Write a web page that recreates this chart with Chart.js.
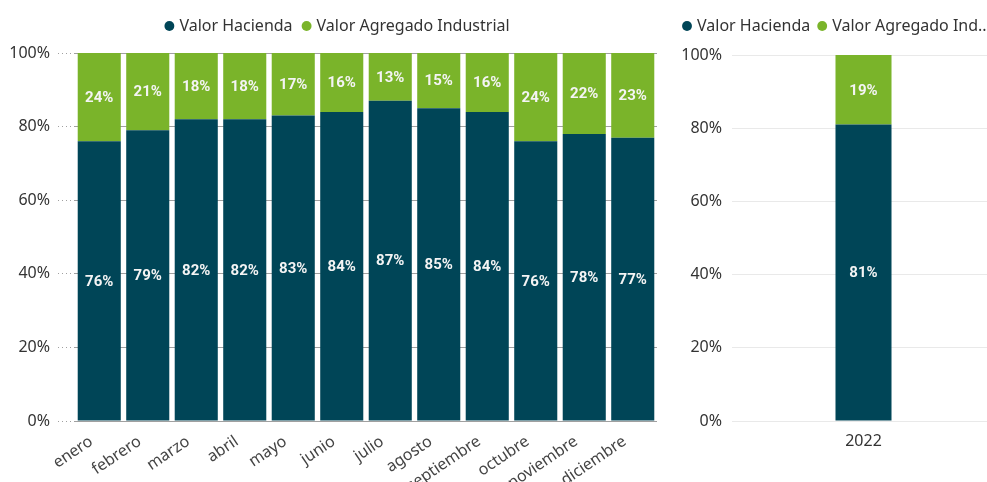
<!DOCTYPE html>
<html lang="es">
<head>
    <meta charset="UTF-8">
    <title>Valor Hacienda vs Valor Agregado Industrial</title>
    <script src="https://cdn.jsdelivr.net/npm/chart.js"></script>
    <style>
        body {
            margin: 0;
            background: #ffffff;
            width: 987px;
            height: 482px;
            overflow: hidden;
            position: relative;
        }
        #mes-chart {
            position: absolute;
            left: 0;
            top: 0;
        }
        #anio-chart {
            position: absolute;
            left: 660px;
            top: 0;
        }
    </style>
</head>
<body>
<canvas id="mes-chart" width="672" height="482"></canvas>
<canvas id="anio-chart" width="335" height="482"></canvas>

<script>
    const meses = ['enero', 'febrero', 'marzo', 'abril', 'mayo', 'junio', 'julio',
        'agosto', 'septiembre', 'octubre', 'noviembre', 'diciembre'];
    const haciendaMes = [76, 79, 82, 82, 83, 84, 87, 85, 84, 76, 78, 77];
    const agregadoMes = [24, 21, 18, 18, 17, 16, 13, 15, 16, 24, 22, 23];

    const anios = ['2022'];
    const haciendaAnio = [81];
    const agregadoAnio = [19];

    const yTicks = [0, 20, 40, 60, 80, 100];

    const azul = '#004557';
    const verde = '#7AB42A';
    const font = "'Noto Sans', sans-serif";

    // etiquetas blancas dentro de cada segmento
    const etiquetas = {
        id: 'etiquetas',
        afterDatasetsDraw(chart) {
            const ctx = chart.ctx;
            ctx.save();
            ctx.font = "bold 15px 'Roboto', sans-serif";
            ctx.fillStyle = '#f4f4f4';
            ctx.textAlign = 'center';
            ctx.textBaseline = 'middle';
            chart.data.datasets.forEach((ds, i) => {
                chart.getDatasetMeta(i).data.forEach((bar, j) => {
                    ctx.fillText(ds.data[j] + '%', bar.x, (bar.y + bar.base) / 2 + 1);
                });
            });
            ctx.restore();
        }
    };

    // aire debajo de la leyenda y desplazamiento horizontal
    function ajusteLeyenda(extra, dx) {
        return {
            id: 'ajusteLeyenda',
            afterInit(chart) {
                const legend = chart.legend;
                const fit = legend.fit;
                const draw = legend.draw;
                legend.fit = function () {
                    fit.call(this);
                    this.height += extra;
                };
                legend.draw = function () {
                    const ctx = this.ctx;
                    ctx.save();
                    ctx.translate(dx, 0);
                    draw.call(this);
                    ctx.restore();
                };
            }
        };
    }

    function yScale(grid, ancho, pad) {
        return {
            stacked: true,
            min: 0,
            max: 100,
            afterBuildTicks: s => { s.ticks = yTicks.map(v => ({ value: v })); },
            afterFit: s => { s.width = ancho; },
            border: { display: false },
            grid: grid,
            ticks: {
                color: '#333333',
                padding: pad,
                font: { family: font, size: 16 },
                callback: v => v + '%'
            }
        };
    }

    function leyenda(pad, extra) {
        return Object.assign({
            position: 'top',
            labels: {
                usePointStyle: true,
                pointStyle: 'circle',
                boxWidth: 4,
                boxHeight: 7,
                padding: pad,
                color: '#333333',
                font: { family: font, size: 16 }
            }
        }, extra);
    }

    new Chart(document.getElementById('mes-chart'), {
        type: 'bar',
        data: {
            labels: meses,
            datasets: [
                { label: 'Valor Hacienda', data: haciendaMes, backgroundColor: azul,
                  barPercentage: 0.888, categoryPercentage: 1 },
                { label: 'Valor Agregado Industrial', data: agregadoMes, backgroundColor: verde,
                  barPercentage: 0.888, categoryPercentage: 1 }
            ]
        },
        options: {
            responsive: false,
            animation: false,
            layout: { padding: { top: 6, right: 15, left: 0, bottom: 0 } },
            plugins: {
                legend: leyenda(12, {}),
                tooltip: { enabled: false }
            },
            scales: {
                x: {
                    stacked: true,
                    afterFit: s => { s.height = 61; },
                    border: { display: false },
                    grid: { display: false },
                    ticks: {
                        color: '#444444',
                        font: { family: font, size: 16 },
                        minRotation: 34,
                        maxRotation: 34,
                        labelOffset: -8,
                        autoSkip: false
                    }
                },
                y: yScale({
                    color: '#a0a0a0',
                    borderDash: [1, 3],
                    tickBorderDash: [1, 3],
                    tickLength: 17
                }, 75, 8)
            }
        },
        plugins: [etiquetas, ajusteLeyenda(9, 10)]
    });

    new Chart(document.getElementById('anio-chart'), {
        type: 'bar',
        data: {
            labels: anios,
            datasets: [
                { label: 'Valor Hacienda', data: haciendaAnio, backgroundColor: azul,
                  barPercentage: 0.213, categoryPercentage: 1 },
                { label: 'Valor Agregado Industrial', data: agregadoAnio, backgroundColor: verde,
                  barPercentage: 0.213, categoryPercentage: 1 }
            ]
        },
        options: {
            responsive: false,
            animation: false,
            layout: { padding: { top: 8, right: 0, left: 0, bottom: 0 } },
            plugins: {
                legend: leyenda(10, {
                    align: 'start',
                    labels: Object.assign(leyenda(10, {}).labels, {
                        generateLabels: chart => {
                            const items = Chart.defaults.plugins.legend.labels.generateLabels(chart);
                            items[1].text = 'Valor Agregado Ind..';
                            return items;
                        }
                    })
                }),
                tooltip: { enabled: false }
            },
            scales: {
                x: {
                    stacked: true,
                    afterFit: s => { s.height = 61; },
                    border: { display: false },
                    grid: { display: false },
                    ticks: {
                        color: '#333333',
                        font: { family: font, size: 16 },
                        maxRotation: 0
                    }
                },
                y: yScale({
                    color: '#e9e9e9',
                    drawTicks: false
                }, 72, 10)
            }
        },
        plugins: [etiquetas, ajusteLeyenda(11, 15)]
    });
</script>
</body>
</html>
